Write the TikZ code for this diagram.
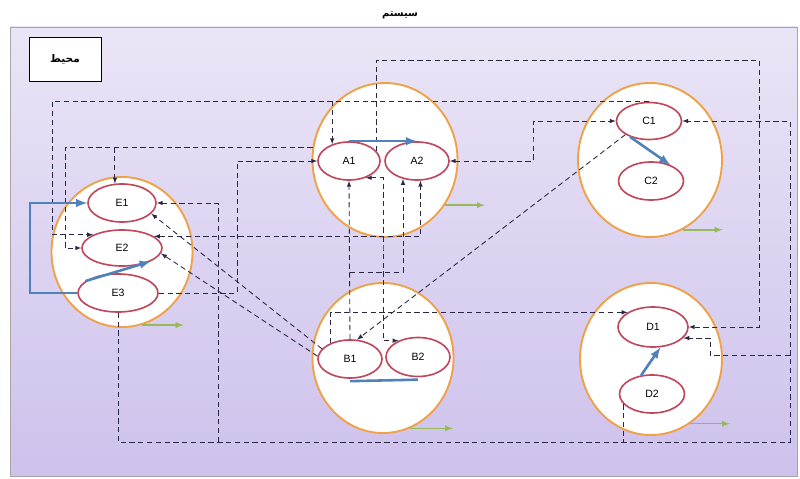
\documentclass[tikz,border=0pt]{standalone}
\usepackage{fontspec}
\setsansfont{Liberation Sans}
\newfontfamily\farsi[Script=Arabic]{DejaVu Sans}
\TeXXeTstate=1
\usepackage{xcolor}
\usetikzlibrary{arrows,shapes}
\definecolor{orng}{RGB}{240,160,70}
\definecolor{rose}{RGB}{192,72,92}
\definecolor{steel}{RGB}{79,129,189}
\definecolor{outgreen}{RGB}{150,185,90}
\definecolor{dashcol}{RGB}{40,40,70}

\begin{document}
\begin{tikzpicture}[x=0.03cm, y=-0.03cm, >=latex,
  sys node/.style={ellipse, draw=orng, line width=1.6pt, fill=white, inner sep=0pt},
  part node/.style={ellipse, draw=rose, line width=1.4pt, fill=white, inner sep=0pt, minimum width=1.92cm, minimum height=1.14cm, font=\sffamily\fontsize{9}{10}\selectfont},
  dline/.style={dash pattern=on 4.5pt off 3pt, line width=0.75pt, draw=dashcol},
  flow/.style={line width=2.2pt, draw=steel},
  out arrow/.style={->, line width=1.3pt, draw=outgreen}]
\useasboundingbox (0,0) rectangle (800,479);
\shade[top color={rgb,255:red,234;green,229;blue,246}, bottom color={rgb,255:red,206;green,193;blue,236}] (10,27) rectangle (797,476);
\draw[gray!70, line width=0.6pt] (10,27) rectangle (797,476);
\node (title) at (400,15) {\farsi\bfseries\fontsize{8.5}{9}\selectfont\beginR سیستم\endR};
\node[draw, fill=white, line width=0.8pt, minimum width=2.16cm, minimum height=1.32cm] (env) at (65,59) {\farsi\bfseries\fontsize{9}{10}\selectfont\beginR محیط\endR};

% subsystems
\node[sys node, minimum width=4.35cm, minimum height=4.62cm] (A) at (385,160) {};
\node[sys node, minimum width=4.32cm, minimum height=4.62cm] (C) at (650,160) {};
\node[sys node, minimum width=4.23cm, minimum height=4.5cm] (E) at (122,252) {};
\node[sys node, minimum width=4.23cm, minimum height=4.5cm] (B) at (383,358) {};
\node[sys node, minimum width=4.26cm, minimum height=4.56cm] (D) at (651,359) {};

\node[part node, minimum width=1.86cm] (A1) at (349,161) {A1};
\node[part node] (A2) at (417,161) {A2};
\node[part node, minimum width=1.95cm, minimum height=1.11cm] (C1) at (649,121) {C1};
\node[part node, minimum width=1.95cm] (C2) at (651,181) {C2};
\node[part node, minimum width=2.04cm] (E1) at (122,203) {E1};
\node[part node, minimum width=2.4cm, minimum height=1.08cm] (E2) at (122,248) {E2};
\node[part node, minimum width=2.4cm] (E3) at (118,293) {E3};
\node[part node] (B1) at (350,359) {B1};
\node[part node, minimum height=1.17cm] (B2) at (418,357) {B2};
\node[part node, minimum width=2.1cm, minimum height=1.2cm] (D1) at (653,327) {D1};
\node[part node, minimum width=1.95cm] (D2) at (652,394) {D2};

\coordinate (wl) at (52,0);
\coordinate (el) at (65,0);
\coordinate (tr) at (759,60);
\coordinate (br) at (790,442);
\coordinate (bl) at (218,442);
\coordinate (dj) at (710,355);
\coordinate (xea) at (237,0);
\coordinate (by) at (0,272);
\coordinate (xab) at (383,250);
\coordinate (ac) at (533,140);
\coordinate (eb) at (30,250);

% dashed links
\draw[dline,->] (C1.north) -| (A1.135);
\draw[dline,->] (C1.north) -- (C1.north -| wl) |- (E2.north west);
\draw[dline,->] (A1.20) |- (tr) |- (D1.east);
\draw[dline,->] (A.170) -| (E2.west -| el) -- (E2.west);
\draw[dline,->] (A.170 -| E1.110) -- (E1.110);
\draw[dline,->] (E3.south) |- (br) |- (C1.east);
\draw[dline,->] (bl) |- (E1.east);
\draw[dline] (D2.200) -- (D2.200 |- br);
\draw[dline,->] (br |- dj) -- (dj) |- (D1.-20);
\draw[dline,<->] (E2.20) -| (A2.-80);
\draw[dline,->] (E3.east) -| (A1.west -| xea) -- (A1.west);
\draw[dline,->] (B1.160) -- (E1.-20);
\draw[dline,->] (B1.175) -- (E2.-8);
\draw[dline,->] (C1.210) -- (B1.70);
\draw[dline,->] (B1.140) |- (D1.150);
\draw[dline,->] (B1.north) -- (A1.south);
\draw[dline,->] (B1.north |- by) -| (A2.-128);
\draw[dline,<->] (A1.-45) -| (xab) |- (B2.140);
\draw[dline,<->] (A2.east) -| (ac) |- (C1.west);

% inner flows
\draw[flow,->] (A1.north) -- (A2.north);
\draw[flow] ([yshift=-2pt]B1.south) -- ([yshift=-2pt]B2.south);
\draw[flow,->] (C1.220) -- (C2.40);
\draw[flow,->] (D2.120) -- (D1.-70);
\draw[flow,->] (E3.west) -| (eb) |- (E1.west);
\draw[flow,->] (E3.160) -- (E2.-25);

% outputs
\draw[out arrow] (A.-37) -- ++(40,0) coordinate (Aout);
\draw[out arrow] (C.-65) -- ++(40,0) coordinate (Cout);
\draw[out arrow] (E.-75) -- ++(42,0) coordinate (Eout);
\draw[out arrow] (B.-69) -- ++(43,0) coordinate (Bout);
\draw[out arrow] (D.-59) -- ++(40,0) coordinate (Dout);
\end{tikzpicture}
\end{document}
